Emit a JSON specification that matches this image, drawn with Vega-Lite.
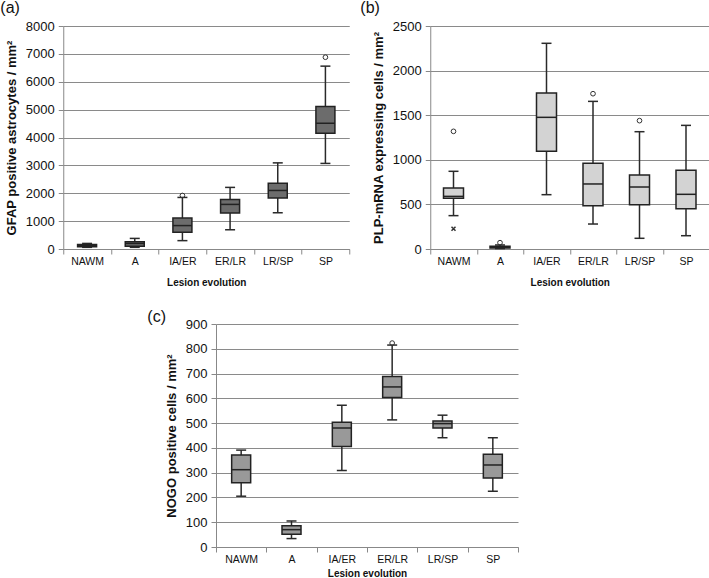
{
  "$schema": "https://vega.github.io/schema/vega-lite/v6.json",
  "padding": {"left": 0, "top": 0, "right": 0, "bottom": 0},
  "config": {
    "font": "Liberation Sans",
    "view": {"stroke": null},
    "axis": {"labelFont": "Liberation Sans", "titleFont": "Liberation Sans", "labelColor": "#111", "titleColor": "#111", "domainColor": "#888", "tickColor": "#888", "gridColor": "#8a8a8a", "tickSize": 5, "domainWidth": 1, "gridWidth": 1},
    "axisX": {"grid": false, "labelFontSize": 10.5, "titleFontSize": 10, "titleFontWeight": "bold", "labelAngle": 0, "tickBand": "extent", "labelPadding": 2, "titlePadding": 11},
    "axisY": {"grid": true, "labelFontSize": 13, "titleFontSize": 13, "titleFontWeight": "bold", "labelPadding": 4, "titlePadding": 7, "format": "d", "labelOverlap": false},
    "tick": {"opacity": 1},
    "point": {"opacity": 1},
    "title": {"fontSize": 16, "fontWeight": "normal", "anchor": "start", "frame": "bounds", "font": "Liberation Sans", "color": "#111", "offset": 4}
  },
  "spacing": 21,
  "center": true,
  "vconcat": [
    {
      "spacing": 10,
      "hconcat": [
        {
          "width": 286, "height": 223,
          "title": {"text": "(a)", "dx": -5},
          "data": {"values": [
            {"stage": "NAWM", "lower": 60, "q1": 80, "median": 120, "q3": 160, "upper": 200},
            {"stage": "A", "lower": 60, "q1": 100, "median": 200, "q3": 260, "upper": 380},
            {"stage": "IA/ER", "lower": 300, "q1": 600, "median": 840, "q3": 1110, "upper": 1850},
            {"stage": "ER/LR", "lower": 690, "q1": 1290, "median": 1600, "q3": 1780, "upper": 2210},
            {"stage": "LR/SP", "lower": 1300, "q1": 1830, "median": 2100, "q3": 2360, "upper": 3090},
            {"stage": "SP", "lower": 3070, "q1": 4150, "median": 4510, "q3": 5110, "upper": 6560}
          ]},
          "encoding": {"x": {"field": "stage", "type": "nominal", "sort": ["NAWM", "A", "IA/ER", "ER/LR", "LR/SP", "SP"], "scale": {"paddingInner": 0, "paddingOuter": 0}, "title": "Lesion evolution"}},
          "layer": [
            {"mark": {"type": "rule", "color": "#2a2a2a", "strokeWidth": 1.5},
             "encoding": {"y": {"field": "lower", "type": "quantitative", "scale": {"domain": [0, 8000], "nice": false}, "axis": {"values": [0, 1000, 2000, 3000, 4000, 5000, 6000, 7000, 8000]}, "title": "GFAP positive astrocytes / mm²"}, "y2": {"field": "upper"}}},
            {"mark": {"type": "tick", "color": "#2a2a2a", "size": 10, "thickness": 1.5},
             "encoding": {"y": {"field": "lower", "type": "quantitative", "scale": {"domain": [0, 8000], "nice": false}, "axis": {"values": [0, 1000, 2000, 3000, 4000, 5000, 6000, 7000, 8000]}, "title": "GFAP positive astrocytes / mm²"}}},
            {"mark": {"type": "tick", "color": "#2a2a2a", "size": 10, "thickness": 1.5},
             "encoding": {"y": {"field": "upper", "type": "quantitative", "scale": {"domain": [0, 8000], "nice": false}, "axis": {"values": [0, 1000, 2000, 3000, 4000, 5000, 6000, 7000, 8000]}, "title": "GFAP positive astrocytes / mm²"}}},
            {"mark": {"type": "bar", "size": 19, "fill": "#6c6c6c", "stroke": "#222", "strokeWidth": 1.5},
             "encoding": {"y": {"field": "q1", "type": "quantitative", "scale": {"domain": [0, 8000], "nice": false}, "axis": {"values": [0, 1000, 2000, 3000, 4000, 5000, 6000, 7000, 8000]}, "title": "GFAP positive astrocytes / mm²"}, "y2": {"field": "q3"}}},
            {"mark": {"type": "tick", "color": "#222", "size": 19, "thickness": 1.5},
             "encoding": {"y": {"field": "median", "type": "quantitative", "scale": {"domain": [0, 8000], "nice": false}, "axis": {"values": [0, 1000, 2000, 3000, 4000, 5000, 6000, 7000, 8000]}, "title": "GFAP positive astrocytes / mm²"}}},
            {"data": {"values": [{"stage": "IA/ER", "v": 1920}, {"stage": "SP", "v": 6880}]},
             "mark": {"type": "point", "shape": "circle", "filled": false, "color": "#333", "size": 22, "strokeWidth": 1},
             "encoding": {"y": {"field": "v", "type": "quantitative", "scale": {"domain": [0, 8000], "nice": false}, "axis": {"values": [0, 1000, 2000, 3000, 4000, 5000, 6000, 7000, 8000]}, "title": "GFAP positive astrocytes / mm²"}}}
          ]
        },
        {
          "width": 279, "height": 223,
          "title": {"text": "(b)", "dx": -12},
          "data": {"values": [
            {"stage": "NAWM", "lower": 374, "q1": 568, "median": 590, "q3": 684, "upper": 871},
            {"stage": "A", "lower": 5, "q1": 10, "median": 20, "q3": 30, "upper": 45},
            {"stage": "IA/ER", "lower": 609, "q1": 1095, "median": 1476, "q3": 1749, "upper": 2306},
            {"stage": "ER/LR", "lower": 280, "q1": 486, "median": 729, "q3": 960, "upper": 1655},
            {"stage": "LR/SP", "lower": 120, "q1": 497, "median": 695, "q3": 830, "upper": 1315},
            {"stage": "SP", "lower": 149, "q1": 452, "median": 613, "q3": 882, "upper": 1386}
          ]},
          "encoding": {"x": {"field": "stage", "type": "nominal", "sort": ["NAWM", "A", "IA/ER", "ER/LR", "LR/SP", "SP"], "scale": {"paddingInner": 0, "paddingOuter": 0}, "title": "Lesion evolution"}},
          "layer": [
            {"mark": {"type": "rule", "color": "#2a2a2a", "strokeWidth": 1.5},
             "encoding": {"y": {"field": "lower", "type": "quantitative", "scale": {"domain": [0, 2500], "nice": false}, "axis": {"values": [0, 500, 1000, 1500, 2000, 2500]}, "title": "PLP-mRNA expressing cells / mm²"}, "y2": {"field": "upper"}}},
            {"mark": {"type": "tick", "color": "#2a2a2a", "size": 10, "thickness": 1.5},
             "encoding": {"y": {"field": "lower", "type": "quantitative", "scale": {"domain": [0, 2500], "nice": false}, "axis": {"values": [0, 500, 1000, 1500, 2000, 2500]}, "title": "PLP-mRNA expressing cells / mm²"}}},
            {"mark": {"type": "tick", "color": "#2a2a2a", "size": 10, "thickness": 1.5},
             "encoding": {"y": {"field": "upper", "type": "quantitative", "scale": {"domain": [0, 2500], "nice": false}, "axis": {"values": [0, 500, 1000, 1500, 2000, 2500]}, "title": "PLP-mRNA expressing cells / mm²"}}},
            {"mark": {"type": "bar", "size": 20, "fill": "#d3d3d3", "stroke": "#222", "strokeWidth": 1.5},
             "encoding": {"y": {"field": "q1", "type": "quantitative", "scale": {"domain": [0, 2500], "nice": false}, "axis": {"values": [0, 500, 1000, 1500, 2000, 2500]}, "title": "PLP-mRNA expressing cells / mm²"}, "y2": {"field": "q3"}}},
            {"mark": {"type": "tick", "color": "#222", "size": 20, "thickness": 1.5},
             "encoding": {"y": {"field": "median", "type": "quantitative", "scale": {"domain": [0, 2500], "nice": false}, "axis": {"values": [0, 500, 1000, 1500, 2000, 2500]}, "title": "PLP-mRNA expressing cells / mm²"}}},
            {"data": {"values": [{"stage": "NAWM", "v": 1319}, {"stage": "A", "v": 71}, {"stage": "ER/LR", "v": 1741}, {"stage": "LR/SP", "v": 1439}]},
             "mark": {"type": "point", "shape": "circle", "filled": false, "color": "#333", "size": 22, "strokeWidth": 1},
             "encoding": {"y": {"field": "v", "type": "quantitative", "scale": {"domain": [0, 2500], "nice": false}, "axis": {"values": [0, 500, 1000, 1500, 2000, 2500]}, "title": "PLP-mRNA expressing cells / mm²"}}},
            {"data": {"values": [{"stage": "NAWM", "v": 228}]},
             "mark": {"type": "point", "shape": "M-1,-1L1,1M-1,1L1,-1", "filled": false, "color": "#333", "size": 16, "strokeWidth": 1.5},
             "encoding": {"y": {"field": "v", "type": "quantitative", "scale": {"domain": [0, 2500], "nice": false}, "axis": {"values": [0, 500, 1000, 1500, 2000, 2500]}, "title": "PLP-mRNA expressing cells / mm²"}}}
          ]
        }
      ]
    },
    {
      "spacing": 0,
      "hconcat": [
        {
          "width": 302, "height": 223,
          "title": {"text": "(c)", "dx": -18, "dy": 11},
          "data": {"values": [
            {"stage": "NAWM", "lower": 205, "q1": 259, "median": 312, "q3": 371, "upper": 391},
            {"stage": "A", "lower": 34, "q1": 51, "median": 70, "q3": 86, "upper": 105},
            {"stage": "IA/ER", "lower": 309, "q1": 406, "median": 480, "q3": 503, "upper": 572},
            {"stage": "ER/LR", "lower": 513, "q1": 603, "median": 646, "q3": 688, "upper": 815},
            {"stage": "LR/SP", "lower": 441, "q1": 480, "median": 498, "q3": 509, "upper": 532},
            {"stage": "SP", "lower": 225, "q1": 278, "median": 331, "q3": 374, "upper": 441}
          ]},
          "encoding": {"x": {"field": "stage", "type": "nominal", "sort": ["NAWM", "A", "IA/ER", "ER/LR", "LR/SP", "SP"], "scale": {"paddingInner": 0, "paddingOuter": 0}, "title": "Lesion evolution", "axis": {"titlePadding": 4}}},
          "layer": [
            {"mark": {"type": "rule", "color": "#2a2a2a", "strokeWidth": 1.5},
             "encoding": {"y": {"field": "lower", "type": "quantitative", "scale": {"domain": [0, 900], "nice": false}, "axis": {"values": [0, 100, 200, 300, 400, 500, 600, 700, 800, 900]}, "title": "NOGO positive cells / mm²"}, "y2": {"field": "upper"}}},
            {"mark": {"type": "tick", "color": "#2a2a2a", "size": 10, "thickness": 1.5},
             "encoding": {"y": {"field": "lower", "type": "quantitative", "scale": {"domain": [0, 900], "nice": false}, "axis": {"values": [0, 100, 200, 300, 400, 500, 600, 700, 800, 900]}, "title": "NOGO positive cells / mm²"}}},
            {"mark": {"type": "tick", "color": "#2a2a2a", "size": 10, "thickness": 1.5},
             "encoding": {"y": {"field": "upper", "type": "quantitative", "scale": {"domain": [0, 900], "nice": false}, "axis": {"values": [0, 100, 200, 300, 400, 500, 600, 700, 800, 900]}, "title": "NOGO positive cells / mm²"}}},
            {"mark": {"type": "bar", "size": 19, "fill": "#999999", "stroke": "#222", "strokeWidth": 1.5},
             "encoding": {"y": {"field": "q1", "type": "quantitative", "scale": {"domain": [0, 900], "nice": false}, "axis": {"values": [0, 100, 200, 300, 400, 500, 600, 700, 800, 900]}, "title": "NOGO positive cells / mm²"}, "y2": {"field": "q3"}}},
            {"mark": {"type": "tick", "color": "#222", "size": 19, "thickness": 1.5},
             "encoding": {"y": {"field": "median", "type": "quantitative", "scale": {"domain": [0, 900], "nice": false}, "axis": {"values": [0, 100, 200, 300, 400, 500, 600, 700, 800, 900]}, "title": "NOGO positive cells / mm²"}}},
            {"data": {"values": [{"stage": "ER/LR", "v": 823}]},
             "mark": {"type": "point", "shape": "circle", "filled": false, "color": "#333", "size": 22, "strokeWidth": 1},
             "encoding": {"y": {"field": "v", "type": "quantitative", "scale": {"domain": [0, 900], "nice": false}, "axis": {"values": [0, 100, 200, 300, 400, 500, 600, 700, 800, 900]}, "title": "NOGO positive cells / mm²"}}}
          ]
        },
        {
          "width": 38, "height": 10,
          "data": {"values": []},
          "mark": "point",
          "encoding": {}
        }
      ]
    }
  ]
}
